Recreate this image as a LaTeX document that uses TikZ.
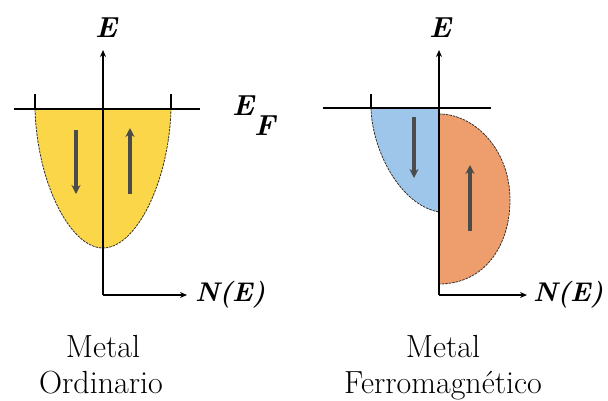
\documentclass[tikz,border=0pt]{standalone}
\usetikzlibrary{arrows.meta}
\definecolor{bandyellow}{RGB}{250,214,72}
\definecolor{bandblue}{RGB}{158,198,234}
\definecolor{bandorange}{RGB}{238,158,108}
\definecolor{spingray}{RGB}{75,75,75}
\definecolor{edgegray}{RGB}{50,50,50}
\begin{document}
\begin{tikzpicture}[x=1pt,y=-1pt,
  axis/.style={line width=1.2pt,black},
  axisarrow/.style={axis,-{Stealth[length=7pt,width=6pt]}},
  fermi/.style={line width=1.2pt,black},
  band/.style={draw=edgegray,line width=0.8pt,dash pattern=on 2.5pt off 1pt},
  spin/.style={line width=3.5pt,spingray,-{Stealth[length=9pt,width=9pt]}},
  sym/.style={inner sep=0pt,font=\fontsize{29}{34}\selectfont\bfseries\itshape},
  symn/.style={inner sep=0pt,font=\fontsize{27}{32}\selectfont\bfseries\itshape},
  caption/.style={inner sep=0pt,font=\fontsize{32}{36}\selectfont}
]
\useasboundingbox (0,0) rectangle (608,400);

% ---------- Left: ordinary metal ----------
\coordinate (Lo) at (103,295);
\coordinate (Ltop) at (103,50);
\coordinate (Lright) at (187,295);
\coordinate (LfA) at (14,109);
\coordinate (LfB) at (200,109);
\coordinate (LtA1) at (35,94); \coordinate (LtA2) at (35,109);
\coordinate (LtB1) at (171,94); \coordinate (LtB2) at (171,109);

\fill[bandyellow] (35,109) .. controls (37,182) and (70,248) .. (103,248)
   .. controls (136,248) and (169,182) .. (171,109) -- cycle;
\draw[band] (35,109) .. controls (37,182) and (70,248) .. (103,248)
   .. controls (136,248) and (169,182) .. (171,109);

\draw[axisarrow] (Lo) -- (Ltop);
\draw[axisarrow] (Lo) -- (Lright);
\draw[fermi] (LfA) -- (LfB);
\draw[fermi] (LtA1) -- (LtA2);
\draw[fermi] (LtB1) -- (LtB2);

\coordinate (Ld1) at (76,130); \coordinate (Ld2) at (76,194);
\coordinate (Lu1) at (130,194); \coordinate (Lu2) at (130,128);
\draw[spin] (Ld1) -- (Ld2);
\draw[spin] (Lu1) -- (Lu2);

\node[sym,anchor=base] (LE) at (106,37) {E};
\node[sym,anchor=base west] (EF) at (232,115) {E\raisebox{-20pt}{F}};
\node[symn,anchor=base west] (LN) at (195,301) {N(E)};

\node[caption,anchor=base] (Lc1) at (103,357) {Metal};
\node[caption,anchor=base] (Lc2) at (101,393) {Ordinario};

% ---------- Right: ferromagnetic metal ----------
\coordinate (Ro) at (439,295);
\coordinate (Rtop) at (439,50);
\coordinate (Rright) at (527,295);
\coordinate (RfA) at (323,108);
\coordinate (RfB) at (491,108);
\coordinate (RtA1) at (371,94); \coordinate (RtA2) at (371,108);

\fill[bandblue] (371,108) .. controls (372,150) and (400,205) .. (439,212) -- (439,108) -- cycle;
\draw[band] (371,108) .. controls (372,150) and (400,205) .. (439,212);

\fill[bandorange] (439,114) .. controls (475,114) and (510,150) .. (510,200)
   .. controls (510,245) and (485,284) .. (439,284) -- cycle;
\draw[band] (439,114) .. controls (475,114) and (510,150) .. (510,200)
   .. controls (510,245) and (485,284) .. (439,284);

\draw[axisarrow] (Ro) -- (Rtop);
\draw[axisarrow] (Ro) -- (Rright);
\draw[fermi] (RfA) -- (RfB);
\draw[fermi] (RtA1) -- (RtA2);

\coordinate (Rd1) at (414,117); \coordinate (Rd2) at (414,178);
\coordinate (Ru1) at (470,231); \coordinate (Ru2) at (470,165);
\draw[spin] (Rd1) -- (Rd2);
\draw[spin] (Ru1) -- (Ru2);

\node[sym,anchor=base] (RE) at (440,37) {E};
\node[symn,anchor=base west] (RN) at (533,301) {N(E)};

\node[caption,anchor=base] (Rc1) at (443,357) {Metal};
\node[caption,anchor=base] (Rc2) at (443,393) {Ferromagnético};
\end{tikzpicture}
\end{document}
